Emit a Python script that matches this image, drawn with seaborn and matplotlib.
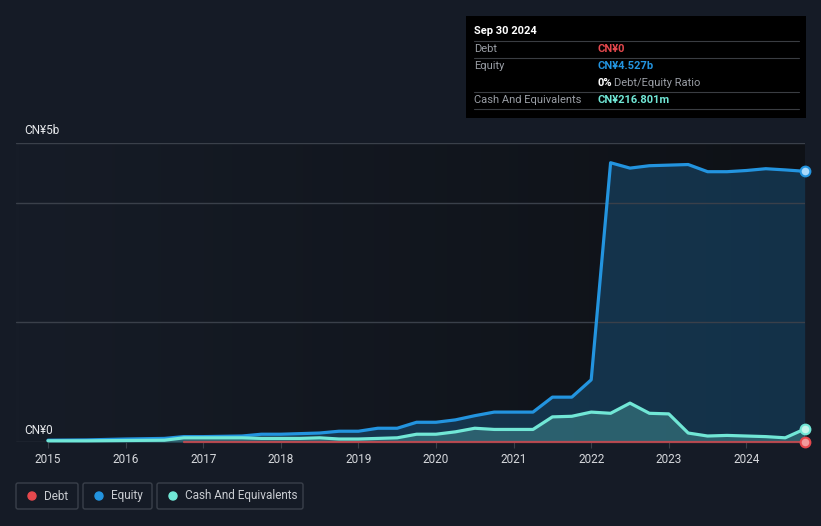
import numpy as np
import pandas as pd
import matplotlib
matplotlib.use("Agg")
import matplotlib.pyplot as plt
from matplotlib.patches import FancyBboxPatch, Rectangle, Circle
from matplotlib.colors import LinearSegmentedColormap
import seaborn as sns

# quarter ends as decimal years, values in CN¥ billions
quarters = [2015.0, 2015.5, 2016.0, 2016.5, 2016.75, 2017.0, 2017.5, 2017.75,
            2018.0, 2018.25, 2018.5, 2018.75, 2019.0, 2019.25, 2019.5, 2019.75,
            2020.0, 2020.25, 2020.5, 2020.75, 2021.0, 2021.25, 2021.5, 2021.75,
            2022.0, 2022.25, 2022.5, 2022.75, 2023.0, 2023.25, 2023.5, 2023.75,
            2024.0, 2024.25, 2024.5, 2024.75]
equity = [0.03, 0.035, 0.05, 0.06, 0.09, 0.09, 0.10, 0.13,
          0.13, 0.14, 0.15, 0.18, 0.18, 0.23, 0.23, 0.33,
          0.33, 0.37, 0.44, 0.50, 0.50, 0.50, 0.75, 0.75,
          1.04, 4.67, 4.58, 4.62, 4.63, 4.64, 4.52, 4.52,
          4.54, 4.57, 4.55, 4.527]
cash = [0.02, 0.02, 0.025, 0.03, 0.07, 0.07, 0.07, 0.06,
        0.06, 0.06, 0.07, 0.05, 0.05, 0.06, 0.07, 0.13,
        0.13, 0.17, 0.23, 0.21, 0.21, 0.21, 0.42, 0.43,
        0.50, 0.48, 0.65, 0.48, 0.47, 0.15, 0.10, 0.11,
        0.10, 0.09, 0.07, 0.2168]
debt_quarters = [2016.75, 2024.75]
debt = [0.0, 0.0]
years = list(range(2015, 2025))

BG = "#151b26"
DEBT_C = "#e5484d"
EQ_C = "#2394df"
CASH_C = "#71e7d6"
GRID_C = "#3a404a"

sns.set_style("dark")
plt.rcParams["font.family"] = ["Roboto", "DejaVu Sans"]

W, H = 821, 526
fig = plt.figure(figsize=(W / 100, H / 100), dpi=100, facecolor=BG)

x0, x1 = 2015 - 32 / 77.6, 2015 + 757 / 77.6
ax = fig.add_axes([16 / W, 1 - 442 / H, (805 - 16) / W, (442 - 143) / H])
ax.set_facecolor(BG)
ax.set_xlim(x0, x1)
ax.set_ylim(0, 5)

# background shading, darker toward the right
cmap = LinearSegmentedColormap.from_list("bg", ["#161c27", "#0e1116"])
grad = np.linspace(0, 1, 256).reshape(1, -1)
ax.imshow(grad, extent=[x0, x1, 0, 5], aspect="auto", cmap=cmap, zorder=0)

df_eq = pd.DataFrame({"date": quarters, "value": equity})
df_cash = pd.DataFrame({"date": quarters, "value": cash})
df_debt = pd.DataFrame({"date": debt_quarters, "value": debt})

ax.fill_between(df_eq["date"], df_eq["value"], color=EQ_C, alpha=0.25, lw=0, zorder=1)
ax.fill_between(df_cash["date"], df_cash["value"], color=CASH_C, alpha=0.25, lw=0, zorder=2)

line_kw = dict(solid_joinstyle="round", solid_capstyle="round", clip_on=False)
sns.lineplot(data=df_eq, x="date", y="value", color=EQ_C, lw=2.3, ax=ax, zorder=4, **line_kw)
sns.lineplot(data=df_cash, x="date", y="value", color=CASH_C, lw=2.3, ax=ax, zorder=4, **line_kw)
sns.lineplot(data=df_debt, x="date", y="value", color=DEBT_C, lw=1.6, alpha=0.75, ax=ax, zorder=3, **line_kw)

# end markers
for d, c, face in [(df_eq, EQ_C, "#a9d9fb"), (df_cash, CASH_C, "#c5f5ec"), (df_debt, DEBT_C, "#f29a9c")]:
    ax.plot(d["date"].iloc[-1], d["value"].iloc[-1], "o", ms=7, mfc=face, mec=c, mew=1.5,
            zorder=6, clip_on=False)

ax.set_yticks([0, 2, 4, 5])
ax.set_yticklabels([])
ax.grid(axis="y", color=GRID_C, lw=1)
ax.grid(axis="x", visible=False)
ax.set_axisbelow(False)
for gl in ax.get_ygridlines():
    gl.set_zorder(0.5)
ax.set_xticks(years)
ax.set_xticklabels([str(y) for y in years], color="#d6d8dc", fontsize=8.5)
ax.tick_params(axis="x", length=4, color=GRID_C, pad=4, bottom=True)
ax.tick_params(axis="y", length=0)
ax.set_xlabel("")
ax.set_ylabel("")
for s in ax.spines.values():
    s.set_visible(False)

# overlay in pixel coordinates for labels, tooltip and legend
ov = fig.add_axes([0, 0, 1, 1], facecolor="none")
ov.set_xlim(0, W)
ov.set_ylim(H, 0)
ov.axis("off")

ov.text(24, 131, "CN¥5b", color="#e6e8eb", fontsize=8.5, va="center", ha="left")
ov.text(24, 431, "CN¥0", color="#e6e8eb", fontsize=8.5, va="center", ha="left")

# tooltip
ov.add_patch(Rectangle((466, 16), 340, 102, facecolor="#000000", edgecolor="none"))
ov.text(474, 31, "Sep 30 2024", color="#ffffff", fontsize=8, fontweight="bold", va="center")
for yy in [41, 58, 92, 109]:
    ov.plot([474, 799], [yy, yy], color="#3a3d42", lw=0.8)
lab_c = "#9a9ea5"
ov.text(474, 49, "Debt", color=lab_c, fontsize=8, va="center")
ov.text(597, 49, "CN¥0", color=DEBT_C, fontsize=8, fontweight="bold", va="center")
ov.text(474, 66, "Equity", color=lab_c, fontsize=8, va="center")
ov.text(597, 66, "CN¥4.527b", color=EQ_C, fontsize=8, fontweight="bold", va="center")
ov.text(597, 83, "0%", color="#ffffff", fontsize=8, fontweight="bold", va="center")
ov.text(614, 83, "Debt/Equity Ratio", color=lab_c, fontsize=8, va="center")
ov.text(474, 100, "Cash And Equivalents", color=lab_c, fontsize=8, va="center")
ov.text(597, 100, "CN¥216.801m", color=CASH_C, fontsize=8, fontweight="bold", va="center")

# legend boxes
legend_items = [("Debt", DEBT_C, 16, 78), ("Equity", EQ_C, 83, 152),
                ("Cash And Equivalents", CASH_C, 157, 303)]
for name, c, lx, rx in legend_items:
    ov.add_patch(FancyBboxPatch((lx, 483), rx - lx, 26, boxstyle="round,pad=0,rounding_size=2",
                                facecolor="none", edgecolor="#3a404a", lw=1))
    ov.add_patch(Circle((lx + 16, 496), 4, color=c))
    ov.text(lx + 28, 496, name, color="#c9ccd1", fontsize=8.5, va="center")

fig.savefig("out.png", dpi=100, facecolor=BG)
